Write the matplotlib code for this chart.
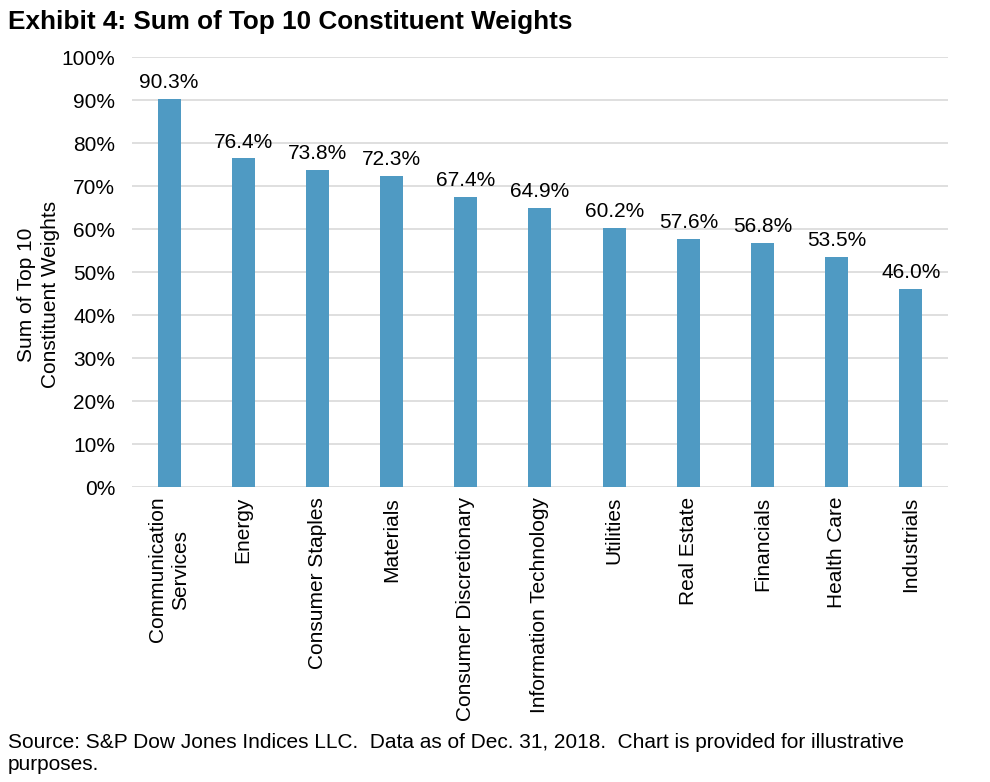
import matplotlib.pyplot as plt
from matplotlib.ticker import FuncFormatter

# data
sectors = ["Communication\nServices", "Energy", "Consumer Staples", "Materials",
           "Consumer Discretionary", "Information Technology", "Utilities",
           "Real Estate", "Financials", "Health Care", "Industrials"]
weights = [90.3, 76.4, 73.8, 72.3, 67.4, 64.9, 60.2, 57.6, 56.8, 53.5, 46.0]
y_ticks = [0, 10, 20, 30, 40, 50, 60, 70, 80, 90, 100]

bar_color = "#4F9AC3"
grid_color = "#D9D9D9"

plt.rcParams['font.family'] = ['Liberation Sans', 'DejaVu Sans']

fig = plt.figure(figsize=(9.9, 7.82), dpi=100)
ax = fig.add_axes([0.1333, 0.3772, 0.8243, 0.5499])

x = list(range(len(sectors)))
ax.bar(x, weights, width=0.31, color=bar_color, zorder=3)

# value labels above bars
for xi, w in zip(x, weights):
    ax.annotate(f"{w:.1f}%", (xi, w), xytext=(0, 5), textcoords="offset points",
                ha="center", va="bottom", fontsize=15)

ax.set_xlim(-0.5, len(sectors) - 0.5)
ax.set_ylim(0, 100)
ax.set_yticks(y_ticks)
ax.yaxis.set_major_formatter(FuncFormatter(lambda v, p: f"{v:.0f}%"))
ax.grid(axis="y", color=grid_color, linewidth=1.2, zorder=0)

ax.set_xticks(x)
ax.set_xticklabels(sectors, rotation=90, fontsize=15, multialignment="center",
                   linespacing=1.3)
ax.tick_params(axis="x", length=0, pad=7)
ax.tick_params(axis="y", length=0, pad=12, labelsize=15)

for s in ax.spines.values():
    s.set_visible(False)

# y label sits a bit below the axis centre in the original
fig.text(0.039, 0.623, "Sum of Top 10\nConstituent Weights", rotation=90,
         fontsize=15, ha="center", va="center", multialignment="center",
         linespacing=1.3)

fig.text(0.008, 0.972, "Exhibit 4: Sum of Top 10 Constituent Weights",
         fontsize=18.8, fontweight="bold", va="center", ha="left")

fig.text(0.008, 0.037,
         "Source: S&P Dow Jones Indices LLC.  Data as of Dec. 31, 2018.  Chart is provided for illustrative\npurposes.",
         fontsize=15, va="center", ha="left", linespacing=1.2)

fig.savefig("out.png", dpi=100)
